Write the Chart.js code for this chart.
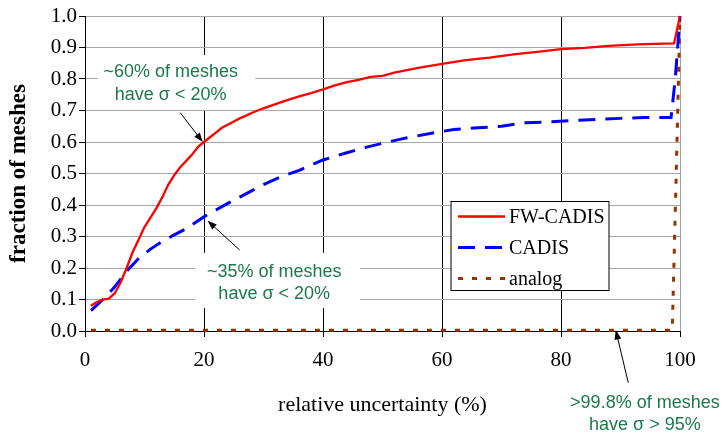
<!DOCTYPE html>
<html>
<head>
<meta charset="utf-8">
<script src="https://cdn.jsdelivr.net/npm/chart.js@4/dist/chart.umd.min.js"></script>
<style>
  html, body { margin: 0; padding: 0; background: #fff; }
  #wrap { width: 725px; height: 436px; }
</style>
</head>
<body>
<div id="wrap"><canvas id="chart" width="725" height="436"></canvas></div>
<script>
// Data (x = relative uncertainty %, y = fraction of meshes)
const fwX = [1, 2, 3, 4, 5, 6, 7, 8, 9, 10, 11, 12, 13, 14, 15, 16, 17, 18, 19, 20,
  21, 22, 23, 24, 25, 26, 27, 28, 29, 30, 32, 34, 36, 38, 40, 42, 44, 46, 48, 50,
  52, 56, 60, 64, 68, 72, 76, 80, 84, 88, 92, 94, 99, 100];
const fwY = [0.08, 0.092, 0.10, 0.103, 0.12, 0.155, 0.20, 0.25, 0.29, 0.33, 0.36, 0.39, 0.425, 0.465, 0.495, 0.52, 0.54, 0.56, 0.585, 0.60,
  0.615, 0.63, 0.645, 0.655, 0.665, 0.675, 0.683, 0.692, 0.70, 0.707, 0.72, 0.733, 0.745, 0.755, 0.767, 0.78, 0.79, 0.797, 0.807, 0.81,
  0.82, 0.835, 0.848, 0.86, 0.868, 0.878, 0.886, 0.895, 0.899, 0.905, 0.909, 0.911, 0.913, 1.0];

const cadisX = [1, 3, 5, 7, 9, 11, 13, 15, 17, 19, 20, 22, 24, 26, 28, 30, 33, 36, 40, 44,
  47, 50, 54, 58, 62, 66, 70, 74, 78, 82, 86, 90, 94, 98.5, 99.2, 100];
const cadisY = [0.065, 0.10, 0.14, 0.19, 0.23, 0.26, 0.285, 0.305, 0.325, 0.35, 0.363, 0.384, 0.405, 0.425, 0.445, 0.465, 0.49, 0.51, 0.543, 0.566,
  0.582, 0.596, 0.613, 0.627, 0.64, 0.645, 0.65, 0.661, 0.664, 0.668, 0.672, 0.675, 0.678, 0.678, 0.80, 1.0];

const analogX = [1, 98.7, 99.3, 100];
const analogY = [0.002, 0.002, 0.45, 1.0];

const seriesNames = ['FW-CADIS', 'CADIS', 'analog'];
const xTicks = [0, 20, 40, 60, 80, 100];

const serif = "'Liberation Serif', 'DejaVu Serif', serif";
const sans = "'Liberation Sans', Arial, sans-serif";
const noteColor = '#1a7a4a';

// annotations in data coordinates
const notes = [
  { lines: ['~60% of meshes', 'have σ < 20%'], cx: 14.4, ys: [0.823, 0.75], box: [2.2, 28.6, 0.876, 0.702],
    arrow: [16.0, 0.693, 19.8, 0.60] },
  { lines: ['~35% of meshes', 'have σ < 20%'], cx: 31.8, ys: [0.188, 0.117], box: [18.5, 46.2, 0.248, 0.073],
    arrow: [26.0, 0.257, 20.6, 0.35] },
  { lines: ['>99.8% of meshes', 'have σ > 95%'], cx: 94.1, ys: [-0.228, -0.298], box: null,
    arrow: [91.3, -0.164, 89.2, 0.003] }
];

function pts(xs, ys) {
  return xs.map((x, i) => ({ x: x, y: ys[i] }));
}

const styles = [
  { color: '#ff0000', width: 2.3, dash: [] },
  { color: '#0000ff', width: 3, dash: [17, 10] },
  { color: '#993300', width: 3, dash: [5, 9] }
];

function drawArrow(c, x1, y1, x2, y2) {
  const ang = Math.atan2(y2 - y1, x2 - x1);
  const head = 10, spread = 0.35;
  c.save();
  c.strokeStyle = '#000';
  c.fillStyle = '#000';
  c.lineWidth = 1;
  c.beginPath();
  c.moveTo(x1, y1);
  c.lineTo(x2 - Math.cos(ang) * head * 0.8, y2 - Math.sin(ang) * head * 0.8);
  c.stroke();
  c.beginPath();
  c.moveTo(x2, y2);
  c.lineTo(x2 - head * Math.cos(ang - spread), y2 - head * Math.sin(ang - spread));
  c.lineTo(x2 - head * Math.cos(ang + spread), y2 - head * Math.sin(ang + spread));
  c.closePath();
  c.fill();
  c.restore();
}

const notesPlugin = {
  id: 'notes',
  beforeDatasetsDraw(chart) {
    const c = chart.ctx, sx = chart.scales.x, sy = chart.scales.y;
    c.save();
    c.fillStyle = '#fff';
    notes.forEach(n => {
      if (!n.box) return;
      const x0 = sx.getPixelForValue(n.box[0]), x1 = sx.getPixelForValue(n.box[1]);
      const y0 = sy.getPixelForValue(n.box[2]), y1 = sy.getPixelForValue(n.box[3]);
      c.fillRect(x0, y0, x1 - x0, y1 - y0);
    });
    c.restore();
  },
  afterDraw(chart) {
    const c = chart.ctx, sx = chart.scales.x, sy = chart.scales.y;
    c.save();
    c.font = '18px ' + sans;
    c.fillStyle = noteColor;
    c.textAlign = 'center';
    c.textBaseline = 'middle';
    notes.forEach(n => {
      n.lines.forEach((t, i) => c.fillText(t, sx.getPixelForValue(n.cx), sy.getPixelForValue(n.ys[i])));
      const a = n.arrow;
      drawArrow(c, sx.getPixelForValue(a[0]), sy.getPixelForValue(a[1]), sx.getPixelForValue(a[2]), sy.getPixelForValue(a[3]));
    });
    c.restore();

    // legend box
    const area = chart.chartArea;
    const lx = area.left + 366, ly = area.top + 185.5, lw = 158, lh = 89;
    c.save();
    c.fillStyle = '#fff';
    c.fillRect(lx, ly, lw, lh);
    c.strokeStyle = '#000';
    c.lineWidth = 1;
    c.strokeRect(lx, ly, lw, lh);
    c.font = '20px ' + serif;
    c.textBaseline = 'middle';
    seriesNames.forEach((name, i) => {
      const y = ly + 15 + i * 31;
      const st = styles[i];
      c.strokeStyle = st.color;
      c.lineWidth = st.width;
      c.setLineDash(st.dash);
      c.beginPath();
      c.moveTo(lx + 7, y);
      c.lineTo(lx + 54, y);
      c.stroke();
      c.setLineDash([]);
      c.fillStyle = '#000';
      c.fillText(name, lx + 58, y + 1);
    });
    c.restore();
  }
};

const datasets = [pts(fwX, fwY), pts(cadisX, cadisY), pts(analogX, analogY)].map((d, i) => ({
  label: seriesNames[i],
  data: d,
  borderColor: styles[i].color,
  borderWidth: styles[i].width,
  borderDash: styles[i].dash,
  pointRadius: 0,
  fill: false,
  tension: 0,
  clip: 6
}));
// draw red on top
datasets.forEach((d, i) => d.order = i);

new Chart(document.getElementById('chart'), {
  type: 'line',
  data: { datasets: datasets },
  options: {
    responsive: false,
    animation: false,
    layout: { padding: { top: 16, right: 45, left: 0, bottom: 0 } },
    plugins: { legend: { display: false }, tooltip: { enabled: false } },
    scales: {
      x: {
        type: 'linear',
        min: 0,
        max: 100,
        afterFit(s) { s.height = 105; },
        afterBuildTicks(s) { s.ticks = xTicks.map(v => ({ value: v })); },
        ticks: { font: { family: serif, size: 21 }, color: '#000', padding: 11, maxRotation: 0 },
        grid: {
          color: ctx => (ctx.tick && ctx.tick.value === 100 ? '#a0a0a0' : '#000'),
          tickColor: '#000',
          tickLength: 6,
          lineWidth: 1
        },
        border: { color: '#000', width: 1 },
        title: { display: true, text: 'relative uncertainty (%)', font: { family: serif, size: 22 }, color: '#000', padding: { top: 6, bottom: 18 } }
      },
      y: {
        min: 0,
        max: 1,
        afterFit(s) { s.width = 85; },
        ticks: { stepSize: 0.1, font: { family: serif, size: 21 }, color: '#000', padding: 2, callback: v => v.toFixed(1) },
        grid: { color: '#a8a8a8', tickColor: '#000', tickLength: 6, lineWidth: 1 },
        border: { color: '#000', width: 1 },
        title: { display: true, text: 'fraction of meshes', font: { family: serif, size: 23, weight: 'bold' }, color: '#000', padding: { top: 5, bottom: 0 } }
      }
    }
  },
  plugins: [notesPlugin]
});
</script>
</body>
</html>
